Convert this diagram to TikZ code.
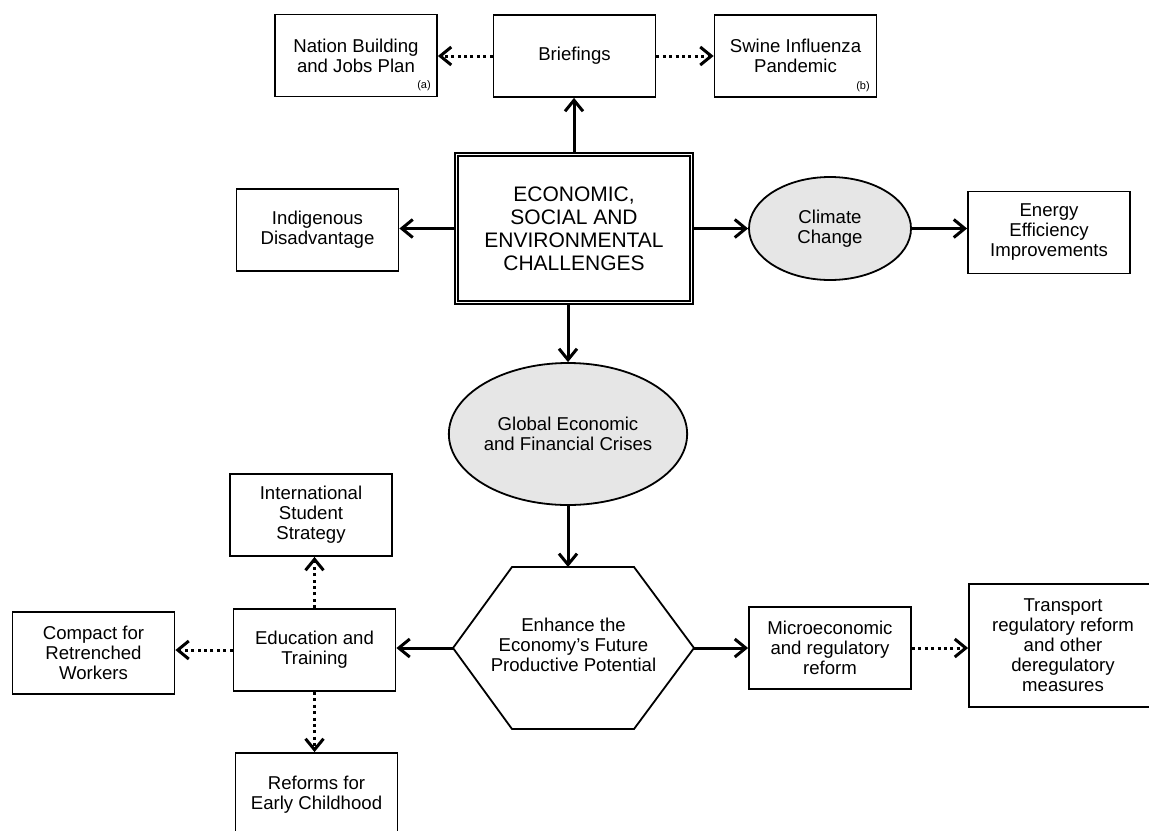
\documentclass[tikz,border=0pt]{standalone}
\usepackage{fontspec}
\setmainfont{Liberation Sans}
\usetikzlibrary{arrows.meta,shapes.geometric}
\definecolor{ovalgray}{HTML}{E6E6E6}

\begin{document}
\begin{tikzpicture}[
  x=0.5pt,y=-0.5pt,
  box/.style={draw,line width=0.9pt,minimum width=81pt,minimum height=41pt,inner sep=0pt,align=center,font=\fontsize{9.3}{10}\selectfont},
  oval/.style={draw,ellipse,fill=ovalgray,line width=0.9pt,inner sep=0pt,align=center,font=\fontsize{9.3}{10}\selectfont},
  note/.style={inner sep=0pt,font=\fontsize{5.5}{6}\selectfont},
  arr/.style={-{Straight Barb[length=5.5pt,width=9pt]},line width=1.5pt},
  dotarr/.style={arr,dash pattern=on 1.5pt off 1.7pt}
]
\useasboundingbox (0,0) rectangle (1149,830);

\node[box] (nation) at (356,55.5) {Nation Building\\and Jobs Plan};
\node[note] (nationnote) at (424,86) {(a)};
\node[box] (brief) at (574.5,56) {Briefings};
\node[box] (swine) at (795.5,56) {Swine Influenza\\Pandemic};
\node[note] (swinenote) at (863,87) {(b)};

\node[box,line width=1.4pt,minimum width=119pt,minimum height=75.5pt,font=\fontsize{10.5}{11.5}\selectfont] (main) at (574,228.5) {ECONOMIC,\\SOCIAL AND\\ENVIRONMENTAL\\CHALLENGES};
\draw[line width=0.8pt] ([shift={(4.5,4.5)}]main.north west) rectangle ([shift={(-4.5,-4.5)}]main.south east);
\node[box] (indig) at (317.5,230) {Indigenous\\Disadvantage};
\node[oval,minimum width=81pt,minimum height=51.5pt] (climate) at (830,228.5) {Climate\\Change};
\node[box] (energy) at (1049,232.5) {Energy\\Efficiency\\Improvements};

\node[oval,minimum width=117pt,minimum height=71pt] (crisis) at (568,434) {Global Economic\\and Financial Crises};

\node[align=center,inner sep=0pt,font=\fontsize{9.3}{10}\selectfont] (enhance) at (573.5,645) {Enhance the\\Economy’s Future\\Productive Potential};
\draw[line width=0.9pt] (453,648) coordinate (enhW) -- (512,567) -- (634,567) -- (694,648) coordinate (enhE) -- (634,729) -- (512,729) -- cycle;
\coordinate (enhN) at (573.5,567);

\node[box] (intl) at (311,515) {International\\Student\\Strategy};
\node[box] (edu) at (314.5,650) {Education and\\Training};
\node[box] (compact) at (93.5,653) {Compact for\\Retrenched\\Workers};
\node[box,minimum height=42pt] (early) at (316.5,795) {Reforms for\\Early Childhood};
\node[box] (micro) at (830,648) {Microeconomic\\and regulatory\\reform};
\node[box,minimum width=94pt,minimum height=61.5pt] (transport) at (1063,645.5) {Transport\\regulatory reform\\and other\\deregulatory\\measures};

\draw[arr] (main.north) -- (main.north |- brief.south);
\draw[dotarr] (brief.west) -- (brief.west -| nation.east);
\draw[dotarr] (brief.east) -- (brief.east -| swine.west);
\draw[arr] (main.west) -- (main.west -| indig.east);
\draw[arr] (main.east) -- (climate.west);
\draw[arr] (climate.east) -- (climate.east -| energy.west);
\draw[arr] (crisis.north |- main.south) -- (crisis.north);
\draw[arr] (crisis.south) -- (crisis.south |- enhN);
\draw[arr] (enhE) -- (enhE -| micro.west);
\draw[arr] (enhW) -- (enhW -| edu.east);
\draw[dotarr] (micro.east) -- (micro.east -| transport.west);
\draw[dotarr] (edu.north) -- (edu.north |- intl.south);
\draw[dotarr] (edu.south) -- (edu.south |- early.north);
\draw[dotarr] (edu.west) -- (edu.west -| compact.east);
\end{tikzpicture}
\end{document}
